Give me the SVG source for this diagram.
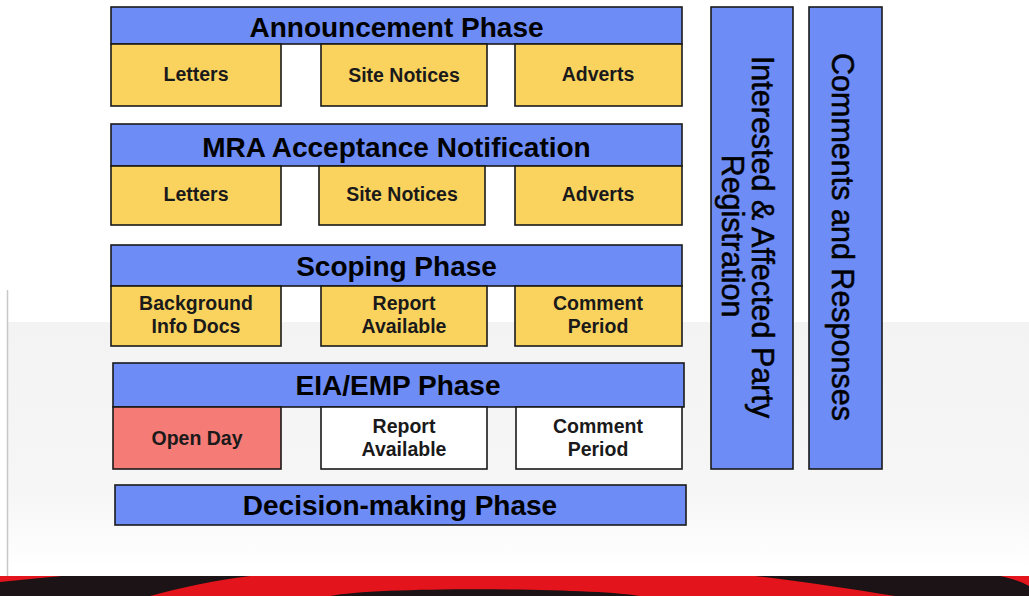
<svg xmlns="http://www.w3.org/2000/svg" width="1029" height="596" viewBox="0 0 1029 596">
<style>
.hdr{fill:#6d8cf5;stroke:#1a1a1a;stroke-width:1.6}
.sub{fill:#fad35f;stroke:#1a1a1a;stroke-width:1.6}
.wht{fill:#ffffff;stroke:#1a1a1a;stroke-width:1.6}
.pnk{fill:#f47b76;stroke:#1a1a1a;stroke-width:1.6}
.bar{fill:#6d8cf5;stroke:#1a1a1a;stroke-width:1.6}
.ht{font-family:"Liberation Sans",Arial,sans-serif;font-weight:bold;font-size:28px;fill:#000;text-anchor:middle}
.st{font-family:"Liberation Sans",Arial,sans-serif;font-weight:bold;font-size:19.5px;fill:#1a1a1a;text-anchor:middle}
.vt{font-family:"Liberation Sans",Arial,sans-serif;font-size:30.5px;fill:#000;stroke:#000;stroke-width:0.5;text-anchor:middle}
</style>
<defs>
<linearGradient id="band" x1="0" y1="0" x2="0" y2="1">
<stop offset="0" stop-color="#f3f3f3"/>
<stop offset="0.7" stop-color="#f6f6f6"/>
<stop offset="1" stop-color="#ffffff"/>
</linearGradient>
</defs>
<g id="background">
<rect x="0" y="0" width="1029" height="596" fill="#ffffff"/>
<rect x="7" y="322" width="1022" height="245" fill="url(#band)"/>
<line x1="7.5" y1="290" x2="7.5" y2="576" stroke="#c8c8c8" stroke-width="1.5"/>
<rect x="0" y="576" width="1029" height="20" fill="#1b1315"/>
<path d="M250 576 L755 576 C800 581 850 589 895 596 L640 596 C600 588 380 586 330 596 L150 596 C180 588 215 580 250 576 Z" fill="#e3141b"/>
<path d="M0 576 L62 576 C40 578 20 580 0 582 Z" fill="#e3141b"/>
<path d="M1000 576 L1029 576 L1029 586 C1020 581 1010 578 1000 576 Z" fill="#e3141b"/>
</g>
<g id="connectors"></g>
<g id="announcement">
<rect class="hdr" x="111" y="7" width="571" height="37"/>
<text class="ht" x="396.5" y="37">Announcement Phase</text>
</g>
<g id="ann-letters"><rect class="sub" x="111" y="44" width="170" height="62"/><text class="st" x="196" y="81">Letters</text></g>
<g id="ann-site"><rect class="sub" x="321" y="44" width="166" height="62"/><text class="st" x="404" y="82">Site Notices</text></g>
<g id="ann-adverts"><rect class="sub" x="515" y="44" width="167" height="62"/><text class="st" x="598" y="81">Adverts</text></g>
<g id="mra">
<rect class="hdr" x="111" y="124" width="571" height="42"/>
<text class="ht" x="396.5" y="157">MRA Acceptance Notification</text>
</g>
<g id="mra-letters"><rect class="sub" x="111" y="166" width="170" height="59"/><text class="st" x="196" y="201">Letters</text></g>
<g id="mra-site"><rect class="sub" x="319" y="166" width="166" height="59"/><text class="st" x="402" y="201">Site Notices</text></g>
<g id="mra-adverts"><rect class="sub" x="515" y="166" width="167" height="59"/><text class="st" x="598" y="201">Adverts</text></g>
<g id="scoping">
<rect class="hdr" x="111" y="245" width="571" height="41"/>
<text class="ht" x="396.5" y="276">Scoping Phase</text>
</g>
<g id="sc-bid"><rect class="sub" x="111" y="286" width="170" height="60"/><text class="st" x="196" y="310">Background</text><text class="st" x="196" y="333">Info Docs</text></g>
<g id="sc-report"><rect class="sub" x="321" y="286" width="166" height="60"/><text class="st" x="404" y="310">Report</text><text class="st" x="404" y="333">Available</text></g>
<g id="sc-comment"><rect class="sub" x="515" y="286" width="167" height="60"/><text class="st" x="598" y="310">Comment</text><text class="st" x="598" y="333">Period</text></g>
<g id="eia">
<rect class="hdr" x="113" y="363" width="571" height="44"/>
<text class="ht" x="398" y="395">EIA/EMP Phase</text>
</g>
<g id="eia-open"><rect class="pnk" x="113" y="407" width="168" height="62"/><text class="st" x="197" y="445">Open Day</text></g>
<g id="eia-report"><rect class="wht" x="321" y="407" width="166" height="62"/><text class="st" x="404" y="433">Report</text><text class="st" x="404" y="456">Available</text></g>
<g id="eia-comment"><rect class="wht" x="516" y="407" width="166" height="62"/><text class="st" x="598" y="433">Comment</text><text class="st" x="598" y="456">Period</text></g>
<g id="decision">
<rect class="hdr" x="115" y="485" width="571" height="40"/>
<text class="ht" x="400" y="515">Decision-making Phase</text>
</g>
<g id="iap">
<rect class="bar" x="711" y="7" width="82" height="462"/>
<text class="vt" transform="translate(752,237) rotate(90)">Interested &amp; Affected Party</text>
<text class="vt" transform="translate(722,236) rotate(90)">Registration</text>
</g>
<g id="comments">
<rect class="bar" x="809" y="7" width="73" height="462"/>
<text class="vt" transform="translate(832,237) rotate(90)">Comments and Responses</text>
</g>
</svg>
